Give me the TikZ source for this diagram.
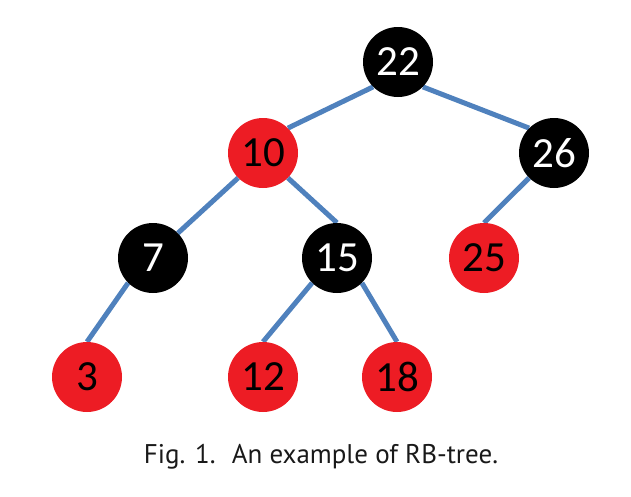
\documentclass[tikz,border=0pt]{standalone}
\usepackage{fontspec}
\setmainfont{Carlito}
\newfontfamily\capfont{PT Sans}
\usetikzlibrary{backgrounds}
\definecolor{rbred}{RGB}{237,28,36}
\definecolor{edgeblue}{RGB}{79,129,189}
\tikzset{
  rbnode/.style={circle, minimum size=70pt, inner sep=0pt, font=\fontsize{43}{43}\selectfont},
  blacknode/.style={rbnode, fill=black, text=white},
  rednode/.style={rbnode, fill=rbred, text=black},
  edge/.style={draw=edgeblue, line width=5pt},
}
\begin{document}
\begin{tikzpicture}[x=1pt,y=-1pt]
\useasboundingbox (0,0) rectangle (631,496);
\node[blacknode] (n22) at (398,62) {22};
\node[rednode]   (n10) at (263,153) {10};
\node[blacknode] (n26) at (554,153) {26};
\node[blacknode] (n7)  at (153,258) {7};
\node[blacknode] (n15) at (337,258) {15};
\node[rednode]   (n25) at (484,258) {25};
\node[rednode]   (n3)  at (87,377) {3};
\node[rednode]   (n12) at (263,377) {12};
\node[rednode]   (n18) at (397,377) {18};
\begin{scope}[on background layer]
\draw[edge] (n22.south west) -- (n10.north east);
\draw[edge] (n22.south east) -- (n26.north west);
\draw[edge] (n10.south west) -- (n7.north east);
\draw[edge] (n10.south east) -- (n15.north);
\draw[edge] (n26.south west) -- (n25.north);
\draw[edge] (n7.south west) -- (n3.north);
\draw[edge] (n15.south west) -- (n12.north);
\draw[edge] (n15.south east) -- (n18.north);
\end{scope}
\node[anchor=base, font=\capfont\fontsize{27}{27}\selectfont, text=black!90] (cap) at (321,463) {Fig. 1.\hspace{0.6em}An example of RB-tree.};
\end{tikzpicture}
\end{document}
